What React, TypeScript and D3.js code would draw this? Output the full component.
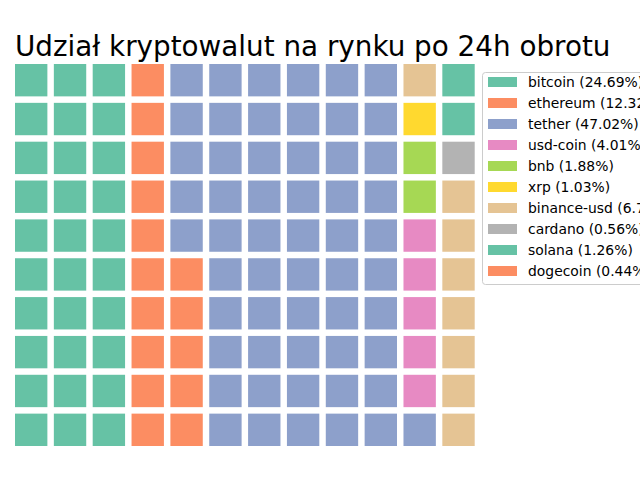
import { useRef, useEffect } from 'react';
import * as d3 from 'd3';

const coins = ['bitcoin', 'ethereum', 'tether', 'usd-coin', 'bnb', 'xrp', 'binance-usd', 'cardano', 'solana', 'dogecoin'];
const shares = [24.69, 12.32, 47.02, 4.01, 1.88, 1.03, 6.79, 0.56, 1.26, 0.44];
const palette = ['#66c2a5', '#fc8d62', '#8da0cb', '#e78ac3', '#a6d854', '#ffd92f', '#e5c494', '#b3b3b3'];
const nRows = 10;
const nCols = 12;
const title = 'Udział kryptowalut na rynku po 24h obrotu';

export default function App() {
  const svgRef = useRef<SVGSVGElement>(null);

  useEffect(() => {
    const width = 640;
    const height = 480;
    const svg = d3.select(svgRef.current);
    svg.selectAll('*').remove();

    const font = 'DejaVu Sans, sans-serif';
    const total = d3.sum(shares);
    const cellsTotal = nRows * nCols;

    // blocks per coin, rounded; grid is filled in order until it runs out
    const counts = shares.map(v => Math.round((v / total) * cellsTotal));
    const cells: { i: number; col: number; row: number }[] = [];
    counts.forEach((n, i) => {
      for (let k = 0; k < n && cells.length < cellsTotal; k++) {
        const idx = cells.length;
        cells.push({ i, col: Math.floor(idx / nRows), row: idx % nRows });
      }
    });

    const color = d3.scaleOrdinal<number, string>().domain(d3.range(coins.length)).range(palette);

    const x = d3.scaleBand<number>()
      .domain(d3.range(nCols))
      .range([15, 474.7])
      .paddingInner(0.2 / 1.2)
      .paddingOuter(0);

    // row 0 is at the bottom
    const y = d3.scaleBand<number>()
      .domain(d3.range(nRows).reverse())
      .range([64, 446])
      .paddingInner(0.2 / 1.2)
      .paddingOuter(0);

    svg.append('rect').attr('width', width).attr('height', height).attr('fill', '#fff');

    svg.append('g')
      .selectAll('rect')
      .data(cells)
      .join('rect')
      .attr('x', d => x(d.col)!)
      .attr('y', d => y(d.row)!)
      .attr('width', x.bandwidth())
      .attr('height', y.bandwidth())
      .attr('fill', d => color(d.i));

    svg.append('text')
      .attr('x', 15)
      .attr('y', 56)
      .attr('font-family', font)
      .attr('font-size', 27.8)
      .attr('fill', '#000')
      .text(title);

    // legend
    const lg = svg.append('g').attr('transform', 'translate(482,72)');
    lg.append('rect')
      .attr('x', 0.5)
      .attr('y', 0.5)
      .attr('width', 200)
      .attr('height', 212)
      .attr('rx', 3)
      .attr('fill', '#fff')
      .attr('fill-opacity', 0.8)
      .attr('stroke', '#cccccc');

    const ly = d3.scalePoint<number>().domain(d3.range(coins.length)).range([10, 199]);
    const items = lg.selectAll('g.item')
      .data(coins)
      .join('g')
      .attr('class', 'item')
      .attr('transform', (_, i) => `translate(0,${ly(i)})`);
    items.append('rect')
      .attr('x', 6)
      .attr('y', -5)
      .attr('width', 29)
      .attr('height', 10)
      .attr('fill', (_, i) => color(i));
    items.append('text')
      .attr('x', 46)
      .attr('y', 5)
      .attr('font-family', font)
      .attr('font-size', 13.9)
      .attr('fill', '#000')
      .text((d, i) => `${d} (${shares[i].toFixed(2)}%)`);
  }, []);

  return (
    <svg
      ref={svgRef}
      width={640}
      height={480}
      style={{ position: 'absolute', left: 0, top: 0, display: 'block' }}
    />
  );
}
